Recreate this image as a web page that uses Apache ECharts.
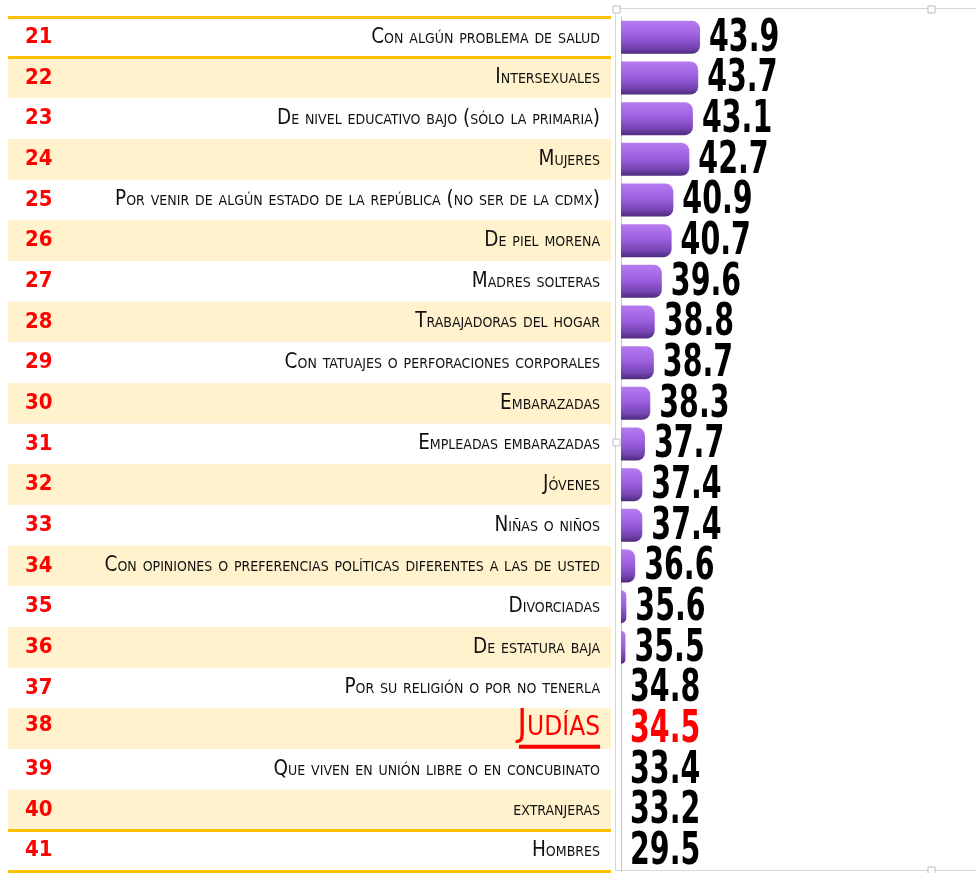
<!DOCTYPE html>
<html>
<head>
<meta charset="utf-8">
<title>Discriminación por grupo</title>
<script src="https://cdn.jsdelivr.net/npm/echarts@6/dist/echarts.min.js"></script>
<style>
    html, body { margin: 0; padding: 0; background: #fff; }
    #main { width: 976px; height: 873px; }
</style>
</head>
<body>
<div id="main"></div>
<script>
var ranks = [21, 22, 23, 24, 25, 26, 27, 28, 29, 30, 31, 32, 33, 34, 35, 36, 37, 38, 39, 40, 41];
var groups = [
    'Con algún problema de salud',
    'Intersexuales',
    'De nivel educativo bajo (sólo la primaria)',
    'Mujeres',
    'Por venir de algún estado de la república (no ser de la cdmx)',
    'De piel morena',
    'Madres solteras',
    'Trabajadoras del hogar',
    'Con tatuajes o perforaciones corporales',
    'Embarazadas',
    'Empleadas embarazadas',
    'Jóvenes',
    'Niñas o niños',
    'Con opiniones o preferencias políticas diferentes a las de usted',
    'Divorciadas',
    'De estatura baja',
    'Por su religión o por no tenerla',
    'Judías',
    'Que viven en unión libre o en concubinato',
    'extranjeras',
    'Hombres'
];
var values = [43.9, 43.7, 43.1, 42.7, 40.9, 40.7, 39.6, 38.8, 38.7, 38.3, 37.7, 37.4, 37.4, 36.6, 35.6, 35.5, 34.8, 34.5, 33.4, 33.2, 29.5];
var highlight = 'Judías';

var xMin = 35, xMax = 75;
var narrow = "'Liberation Sans Narrow', 'Arial Narrow', 'DejaVu Sans Condensed', sans-serif";
var gold = '#FFC000';

initChart();

function initChart() {
    var myChart = echarts.init(document.getElementById('main'), null, { renderer: 'canvas' });

    // only the outer rules of the table are gold: top, under 21, above 41, bottom
    var ruleColors = [];
    for (var i = 0; i <= groups.length; i++) {
        ruleColors.push(i <= 1 || i >= groups.length - 1 ? gold : 'rgba(0,0,0,0)');
    }

    var barColor = new echarts.graphic.LinearGradient(0, 0, 0, 1, [
        { offset: 0, color: '#b67bf0' },
        { offset: 0.45, color: '#9e5fe0' },
        { offset: 0.8, color: '#7645b4' },
        { offset: 1, color: '#4e2a7c' }
    ]);

    var option = {
        animation: false,
        backgroundColor: '#ffffff',
        grid: [
            { left: 8, right: 365, top: 17, bottom: 2 },   // table
            { left: 621, right: 0, top: 17, bottom: 2 }    // bars
        ],
        xAxis: [
            { gridIndex: 0, type: 'value', show: false, min: 0, max: 1 },
            { gridIndex: 1, type: 'value', show: false, min: xMin, max: xMax }
        ],
        yAxis: [
            {
                gridIndex: 0,
                type: 'category',
                data: groups,
                inverse: true,
                position: 'right',
                axisLine: { show: false },
                axisTick: { show: false },
                splitArea: {
                    show: true,
                    areaStyle: { color: ['#ffffff', '#FFF2CC'] }
                },
                splitLine: {
                    show: true,
                    lineStyle: { color: ruleColors, width: 3 }
                },
                axisLabel: {
                    inside: true,
                    interval: 0,
                    margin: 11,
                    formatter: function (value, index) {
                        var rank = '{num|' + ranks[index] + '}';
                        if (value === highlight) {
                            return rank + '{jud|' + value + '}\n{ul| }';
                        }
                        return rank + '{txt|' + value + '}';
                    },
                    rich: {
                        num: {
                            width: 40, align: 'left',
                            color: '#ff0000', fontWeight: 'bold',
                            fontSize: 22, fontFamily: narrow
                        },
                        txt: {
                            width: 535, align: 'right',
                            color: '#111111', fontStyle: 'small-caps',
                            fontSize: 20.5, fontFamily: narrow
                        },
                        jud: {
                            width: 535, align: 'right', lineHeight: 36,
                            color: '#ff0000', fontStyle: 'small-caps',
                            fontSize: 37, fontFamily: narrow
                        },
                        ul: {
                            width: 81, height: 4, lineHeight: 6, align: 'right',
                            backgroundColor: '#ff0000', fontSize: 2
                        }
                    }
                }
            },
            {
                gridIndex: 1,
                type: 'category',
                data: groups,
                inverse: true,
                axisTick: { show: false },
                axisLabel: { show: false },
                axisLine: { show: true, lineStyle: { color: '#c4c4c4', width: 1 } }
            }
        ],
        graphic: [
            {
                type: 'rect',
                shape: { x: 615.5, y: 8.5, width: 380, height: 862 },
                style: { fill: null, stroke: '#d6d6d6', lineWidth: 1 },
                silent: true, z: 0
            },
            { type: 'rect', shape: { x: 613, y: 6, width: 7, height: 7 }, style: { fill: '#fff', stroke: '#bdbdbd' }, z: 10 },
            { type: 'rect', shape: { x: 928, y: 6, width: 7, height: 7 }, style: { fill: '#fff', stroke: '#bdbdbd' }, z: 10 },
            { type: 'rect', shape: { x: 613, y: 439, width: 7, height: 7 }, style: { fill: '#fff', stroke: '#bdbdbd' }, z: 10 },
            { type: 'rect', shape: { x: 928, y: 867, width: 7, height: 7 }, style: { fill: '#fff', stroke: '#bdbdbd' }, z: 10 }
        ],
        series: [
            {
                name: 'porcentaje',
                type: 'bar',
                xAxisIndex: 1,
                yAxisIndex: 1,
                barWidth: 33,
                data: values,
                itemStyle: {
                    color: barColor,
                    borderRadius: [0, 8, 8, 0]
                }
            },
            {
                name: 'etiquetas',
                type: 'custom',
                xAxisIndex: 1,
                yAxisIndex: 1,
                data: values.map(function (v, i) { return [v, groups[i]]; }),
                encode: { x: 0, y: 1 },
                renderItem: function (params, api) {
                    var v = api.value(0);
                    // Excel puts the label at the axis when the bar is below the axis minimum
                    var p = api.coord([Math.max(v, xMin), api.value(1)]);
                    var isHi = groups[params.dataIndex] === highlight;
                    return {
                        type: 'text',
                        x: p[0] + 9,
                        y: p[1] + 2,
                        scaleX: 0.72,
                        style: {
                            text: v.toFixed(1),
                            fill: isHi ? '#ff0000' : '#000000',
                            font: 'bold 44px ' + narrow,
                            align: 'left',
                            verticalAlign: 'middle'
                        }
                    };
                }
            }
        ]
    };
    myChart.setOption(option);
}
</script>
</body>
</html>
